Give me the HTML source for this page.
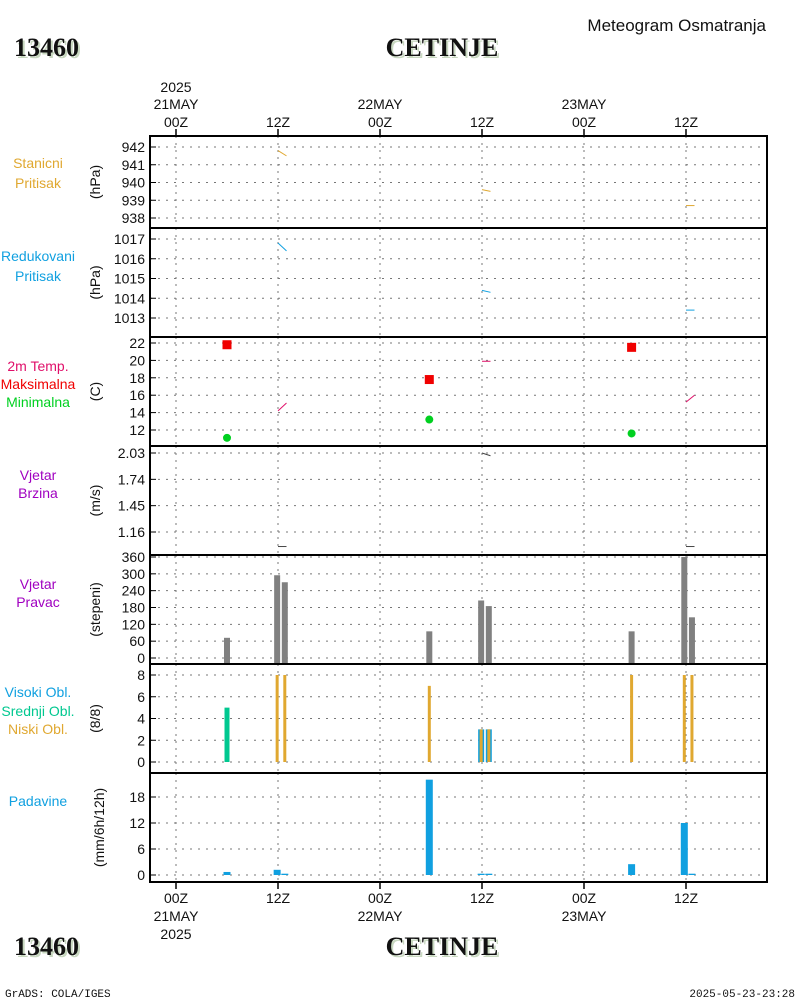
<!DOCTYPE html>
<html><head><meta charset="utf-8">
<style>
body{margin:0;background:#fff;}
svg{display:block;font-family:"Liberation Sans",sans-serif;}
</style></head>
<body>
<svg id="c" width="800" height="1000" viewBox="0 0 800 1000">
<g>
<text x="14" y="56" font-family="Liberation Serif" font-weight="bold" font-size="26" fill="#c8d8c0" transform="translate(2,2)">13460</text>
<text x="14" y="56" font-family="Liberation Serif" font-weight="bold" font-size="26" fill="#111">13460</text>
<text x="442" y="56" text-anchor="middle" font-family="Liberation Serif" font-weight="bold" font-size="26" fill="#c8d8c0" transform="translate(2,2)">CETINJE</text>
<text x="442" y="56" text-anchor="middle" font-family="Liberation Serif" font-weight="bold" font-size="26" fill="#111">CETINJE</text>
<text x="766" y="31" text-anchor="end" font-size="17" fill="#111">Meteogram Osmatranja</text>
<text x="14" y="955" font-family="Liberation Serif" font-weight="bold" font-size="26" fill="#c8d8c0" transform="translate(2,2)">13460</text>
<text x="14" y="955" font-family="Liberation Serif" font-weight="bold" font-size="26" fill="#111">13460</text>
<text x="442" y="955" text-anchor="middle" font-family="Liberation Serif" font-weight="bold" font-size="26" fill="#c8d8c0" transform="translate(2,2)">CETINJE</text>
<text x="442" y="955" text-anchor="middle" font-family="Liberation Serif" font-weight="bold" font-size="26" fill="#111">CETINJE</text>
<text x="5" y="997" font-family="Liberation Mono" font-size="11" fill="#111">GrADS: COLA/IGES</text>
<text x="795" y="997" text-anchor="end" font-family="Liberation Mono" font-size="11" fill="#111">2025-05-23-23:28</text>
</g>
</svg>
<script>
// ---- data ----
const timeTickHours=[0,12,24,36,48,60];
const timeTickLabels=["00Z","12Z","00Z","12Z","00Z","12Z"];
const dayLabels=["21MAY","22MAY","23MAY"];
const stnPresHours=[[12,13],[36,37],[60,61]];
const stnPresVals=[[941.8,941.5],[939.6,939.5],[938.7,938.7]];
const redPresVals=[[1016.8,1016.4],[1014.4,1014.3],[1013.4,1013.4]];
const tempVals=[[14.2,15.1],[19.9,19.9],[15.2,16.0]];
const windSpdVals=[[1.0,1.0],[2.03,2.0],[1.0,1.0]];
const extremeHours=[6,29.8,53.6];
const tmaxVals=[21.8,17.8,21.5];
const tminVals=[11.1,13.2,11.6];
const barHours=[6,11.9,12.8,29.8,35.9,36.8,53.6,59.8,60.7];
const windDirVals=[72,295,270,95,205,185,95,360,145];
const cloudLowVals=[0,8,8,7,3,3,8,8,8];
const cloudMidVals=[5,0,0,0,0,0,0,0,0];
const cloudHighVals=[0,0,0,0,3,3,0,0,0];
const precipVals=[0.7,1.2,0.3,22,0.3,0.3,2.5,12,0.3];

const NS="http://www.w3.org/2000/svg";
const svg=document.getElementById('c');
function mk(tag,attrs,parent){const e=document.createElementNS(NS,tag);for(const k in attrs)e.setAttribute(k,attrs[k]);(parent||svg).appendChild(e);return e;}
const X0=150,X1=767;
const xh=h=>176+h*8.5;

const panels=[
 {top:136,bot:228,y0:942,py0:147,y1:938,py1:218,ticks:[942,941,940,939,938],unit:"(hPa)",ly:[168,188],labels:[["Stanicni","#e0a830"],["Pritisak","#e0a830"]],name:"station-pressure"},
 {top:228,bot:337,y0:1017,py0:239,y1:1013,py1:318,ticks:[1017,1016,1015,1014,1013],unit:"(hPa)",ly:[261,281],labels:[["Redukovani","#10a0e0"],["Pritisak","#10a0e0"]],name:"reduced-pressure"},
 {top:337,bot:446,y0:22,py0:343,y1:12,py1:430,ticks:[22,20,18,16,14,12],unit:"(C)",ly:[371,389,407],labels:[["2m Temp.","#e0106a"],["Maksimalna","#f00000"],["Minimalna","#00d020"]],name:"temperature"},
 {top:446,bot:555,y0:2.03,py0:453,y1:1.16,py1:532,ticks:[2.03,1.74,1.45,1.16],unit:"(m/s)",ly:[480,498],labels:[["Vjetar","#a000c0"],["Brzina","#a000c0"]],name:"wind-speed"},
 {top:555,bot:664,y0:360,py0:557,y1:0,py1:658,ticks:[360,300,240,180,120,60,0],unit:"(stepeni)",ly:[589,607],labels:[["Vjetar","#a000c0"],["Pravac","#a000c0"]],name:"wind-direction"},
 {top:664,bot:773,y0:8,py0:675,y1:0,py1:762,ticks:[8,6,4,2,0],unit:"(8/8)",ly:[697,716,734],labels:[["Visoki Obl.","#10a0e0"],["Srednji Obl.","#00c890"],["Niski Obl.","#e0a830"]],name:"cloud-cover"},
 {top:773,bot:882,y0:18,py0:797,y1:0,py1:875,ticks:[18,12,6,0],unit:"(mm/6h/12h)",ly:[806],labels:[["Padavine","#10a0e0"]],name:"precipitation"}
];
panels.forEach(p=>{p.y=v=>p.py0+(v-p.y0)*(p.py1-p.py0)/(p.y1-p.y0);});

panels.forEach((p,i)=>{
  const g=mk('g',{});
  
  
  timeTickHours.forEach(h=>{const l=mk('line',{x1:xh(h),x2:xh(h),y1:p.top,y2:p.bot,stroke:'#777','stroke-dasharray':'2,5'},g);
    });
  p.ticks.forEach(t=>{
    const y=p.y(t);
    const l=mk('line',{x1:X0,x2:X1,y1:y,y2:y,stroke:'#777','stroke-dasharray':'2,6'},g);
    
    const tk=mk('line',{x1:X0,x2:X0+6,y1:y,y2:y,stroke:'#000'},g);
    
    const tx=mk('text',{x:X0-5,y:y+5,'text-anchor':'end','font-size':'14',fill:'#111'},g);
    tx.textContent=String(t);
    
  });
  const cy=(p.top+p.bot)/2;
  const u=mk('text',{x:0,y:0,'text-anchor':'middle','font-size':'14',fill:'#111',transform:`translate(${i==6?104:100},${cy}) rotate(-90)`},g);
  u.textContent=p.unit;
  
  p.labels.forEach((lb,j)=>{
    const t=mk('text',{x:38,y:p.ly[j],'text-anchor':'middle','font-size':'14',fill:lb[1]},g);
    t.textContent=lb[0];
    
  });
  p.g=g;
});

function segs(p,vals,color,nm){
  stnPresHours.forEach((hh,k)=>{const l=mk('line',{x1:xh(hh[0]),x2:xh(hh[1]),y1:p.y(vals[k][0]),y2:p.y(vals[k][1]),stroke:color,'stroke-width':1},p.g);
    });
}
segs(panels[0],stnPresVals,'#e0a830','station-pressure-line');
segs(panels[1],redPresVals,'#10a0e0','reduced-pressure-line');
segs(panels[2],tempVals,'#e0106a','temperature-line');
segs(panels[3],windSpdVals,'#444','wind-speed-line');
extremeHours.forEach((h,k)=>{
  const p=panels[2];
  const r=mk('rect',{x:xh(h)-4.5,y:p.y(tmaxVals[k])-4.5,width:9,height:9,fill:'#f00000'},p.g);
  
  const c=mk('circle',{cx:xh(h),cy:p.y(tminVals[k]),r:4,fill:'#00d020'},p.g);
  
});
function bar(p,h,v,color,w,base,nm){
  const y=p.y(v), yb=base==null?p.bot:p.y(base);
  const r=mk('rect',{x:xh(h)-w/2,y:y,width:w,height:Math.max(0,yb-y),fill:color},p.g);
  
}
barHours.forEach((h,k)=>{
  bar(panels[4],h,windDirVals[k],'#808080',6,null,'wind-direction-bar');
  if(cloudMidVals[k]>0)bar(panels[5],h,cloudMidVals[k],'#00c890',5,0,'mid-cloud-bar');
  if(cloudHighVals[k]>0)bar(panels[5],h,cloudHighVals[k],'#10a0e0',6,0,'high-cloud-bar');
  if(cloudLowVals[k]>0)bar(panels[5],h,cloudLowVals[k],'#e0a830',3,0,'low-cloud-bar');
  bar(panels[6],h,precipVals[k],'#10a0e0',7,0,'precip-bar');
});
panels.forEach(p=>{const r=mk('rect',{x:X0,y:p.top,width:X1-X0,height:p.bot-p.top,fill:'none',stroke:'#000','stroke-width':2});
  });
timeTickHours.forEach((h,k)=>{
  [[129,136],[882,889]].forEach(a=>{const l=mk('line',{x1:xh(h),x2:xh(h),y1:a[0],y2:a[1],stroke:'#000','stroke-width':1.5});
    });
  [[127],[903]].forEach(a=>{const t=mk('text',{x:xh(h),y:a[0],'text-anchor':'middle','font-size':'14',fill:'#111'});
    t.textContent=timeTickLabels[k];});
});
dayLabels.forEach((d,k)=>{
  const x=xh(k*24);
  const a=mk('text',{x:x,y:109,'text-anchor':'middle','font-size':'14',fill:'#111'});a.textContent=d;
  
  const b=mk('text',{x:x,y:921,'text-anchor':'middle','font-size':'14',fill:'#111'});b.textContent=d;
  
});
const y1=mk('text',{x:xh(0),y:92,'text-anchor':'middle','font-size':'14',fill:'#111'});y1.textContent="2025";

const y2=mk('text',{x:xh(0),y:939,'text-anchor':'middle','font-size':'14',fill:'#111'});y2.textContent="2025";

</script>
</body></html>
